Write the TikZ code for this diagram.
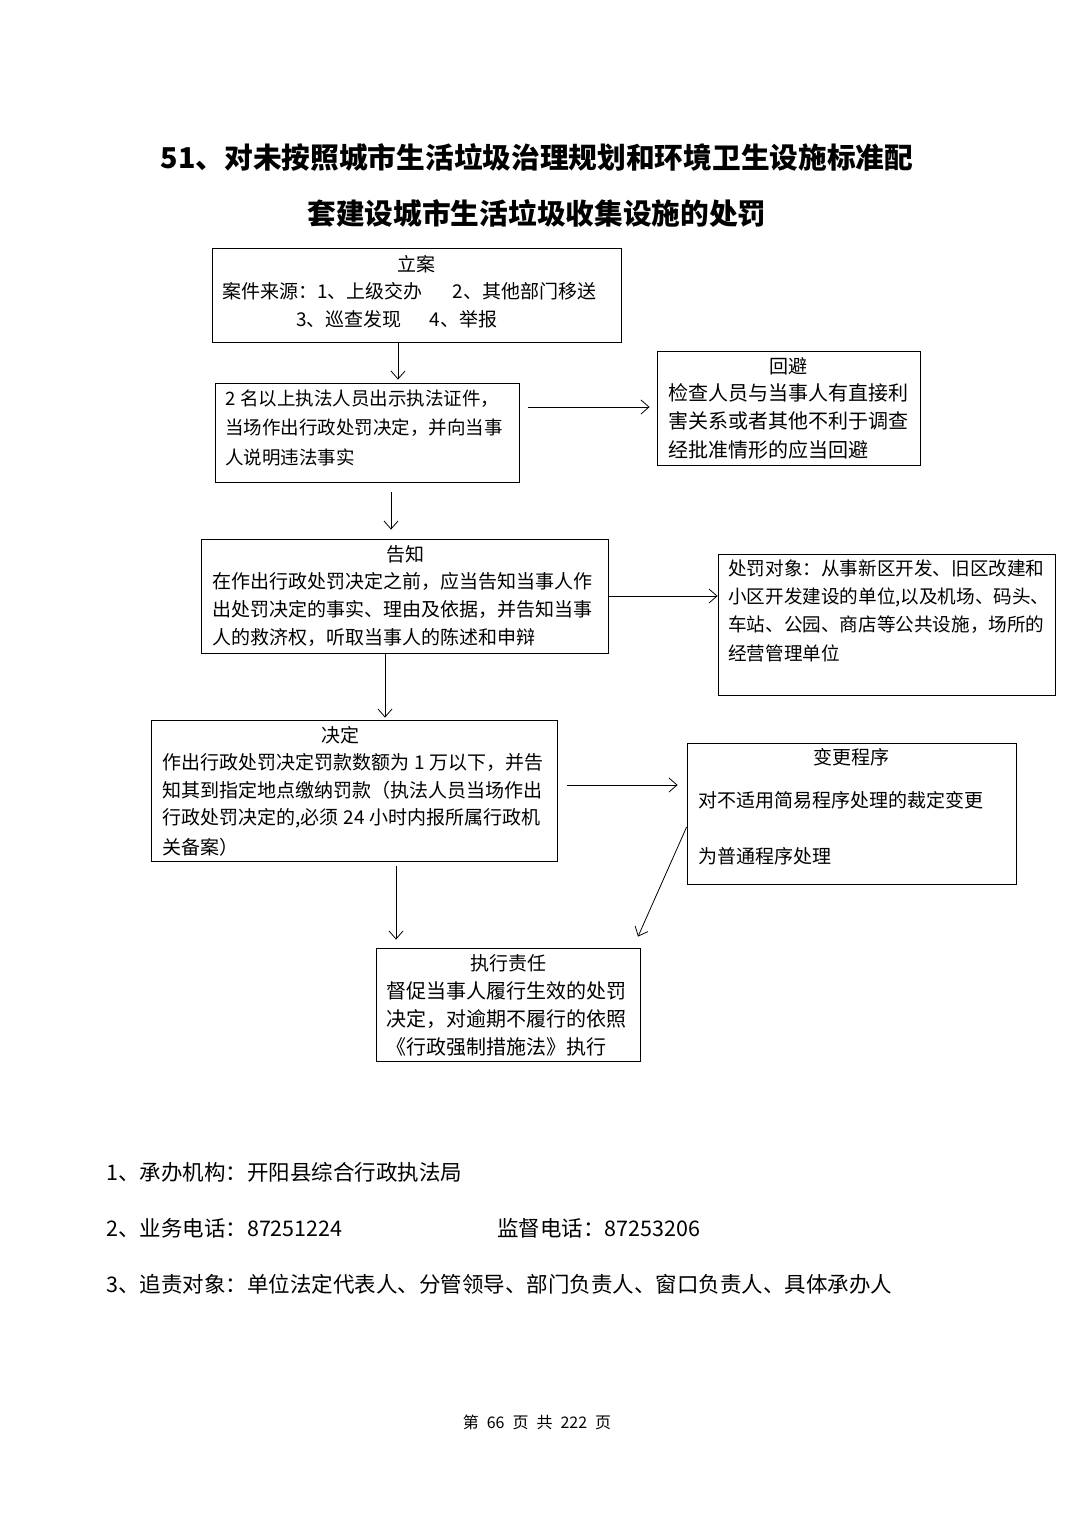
\documentclass[tikz,border=0pt]{standalone}
\usepackage{fontspec}
\setmainfont{Noto Sans CJK SC}
\usetikzlibrary{arrows.meta}
\tikzset{
  box/.style={draw, line width=0.8pt, inner sep=0pt, rectangle},
  arr/.style={draw, line width=0.8pt, -{Straight Barb[length=8pt,width=14pt,line width=0.8pt]}},
  txt/.style={inner sep=0pt, anchor=west, font=\fontsize{19}{19}\selectfont},
  ttl/.style={inner sep=0pt, anchor=center, font=\fontsize{19}{19}\selectfont},
  wide/.style={font=\fontsize{20}{20}\selectfont},
  foot/.style={inner sep=0pt, anchor=west, font=\fontsize{21.5}{21.5}\selectfont},
  head/.style={inner sep=0pt, anchor=center, font=\fontsize{28.7}{28.7}\selectfont\bfseries}
}
\begin{document}
\begin{tikzpicture}[x=1pt,y=-1pt]
\useasboundingbox (0,0) rectangle (1074,1520);
\fill[white] (0,0) rectangle (1074,1520);

% title
\node[head] (h1) at (537,157) {51、对未按照城市生活垃圾治理规划和环境卫生设施标准配};
\node[head] (h2) at (537,213) {套建设城市生活垃圾收集设施的处罚};

% boxes
\node[box, minimum width=409pt, minimum height=94pt] (lian) at (416.5,295) {};
\node[box, minimum width=304pt, minimum height=99pt] (b2) at (367,432.5) {};
\node[box, minimum width=263pt, minimum height=114pt] (huibi) at (788.5,408) {};
\node[box, minimum width=407pt, minimum height=114pt] (gaozhi) at (404.5,596) {};
\node[box, minimum width=337pt, minimum height=141pt] (dx) at (886.5,624.5) {};
\node[box, minimum width=406pt, minimum height=141pt] (jd) at (354,790.5) {};
\node[box, minimum width=329pt, minimum height=141pt] (bg) at (851.5,813.5) {};
\node[box, minimum width=264pt, minimum height=113pt] (zx) at (508,1004.5) {};

% box 1 text
\node[ttl] (l0) at (416.5,264) {立案};
\node[txt] (l1) at (222,291) {案件来源：1、上级交办\hspace{30pt}2、其他部门移送};
\node[txt] (l2) at (296,319) {3、巡查发现\hspace{28pt}4、举报};

% box 2 text
\node[txt, font=\fontsize{18.5}{18.5}\selectfont] (b2a) at (225,399) {2\hspace{5pt}名以上执法人员出示执法证件，};
\node[txt, font=\fontsize{18.5}{18.5}\selectfont] (b2b) at (225,428) {当场作出行政处罚决定，并向当事};
\node[txt, font=\fontsize{18.5}{18.5}\selectfont] (b2c) at (225,457) {人说明违法事实};

% huibi text
\node[ttl] (hb0) at (788,366) {回避};
\node[txt, wide] (hb1) at (668,393) {检查人员与当事人有直接利};
\node[txt, wide] (hb2) at (668,421) {害关系或者其他不利于调查};
\node[txt, wide] (hb3) at (668,450) {经批准情形的应当回避};

% gaozhi text
\node[ttl] (gz0) at (405,554) {告知};
\node[txt] (gz1) at (212,581) {在作出行政处罚决定之前，应当告知当事人作};
\node[txt] (gz2) at (212,609) {出处罚决定的事实、理由及依据，并告知当事};
\node[txt] (gz3) at (212,637) {人的救济权，听取当事人的陈述和申辩};

% duixiang text
\node[txt, font=\fontsize{18.6}{18.6}\selectfont] (dx1) at (728,568) {处罚对象：从事新区开发、旧区改建和};
\node[txt, font=\fontsize{18.6}{18.6}\selectfont] (dx2) at (728,597) {小区开发建设的单位,以及机场、码头、};
\node[txt, font=\fontsize{18.6}{18.6}\selectfont] (dx3) at (728,625) {车站、公园、商店等公共设施，场所的};
\node[txt, font=\fontsize{18.6}{18.6}\selectfont] (dx4) at (728,653) {经营管理单位};

% jueding text
\node[ttl] (jd0) at (340,735) {决定};
\node[txt] (jd1) at (162,762) {作出行政处罚决定罚款数额为\hspace{5pt}1\hspace{5pt}万以下，并告};
\node[txt] (jd2) at (162,790) {知其到指定地点缴纳罚款（执法人员当场作出};
\node[txt] (jd3) at (162,818) {行政处罚决定的,必须\hspace{5pt}24\hspace{5pt}小时内报所属行政机};
\node[txt] (jd4) at (162,847) {关备案）};

% biangeng text
\node[ttl] (bg0) at (851,757) {变更程序};
\node[txt] (bg1) at (698,800) {对不适用简易程序处理的裁定变更};
\node[txt] (bg2) at (698,856) {为普通程序处理};

% zhixing text
\node[ttl] (zx0) at (508,963) {执行责任};
\node[txt, wide] (zx1) at (386,991) {督促当事人履行生效的处罚};
\node[txt, wide] (zx2) at (386,1019) {决定，对逾期不履行的依照};
\node[txt, wide] (zx3) at (386,1047) {《行政强制措施法》执行};

% arrows
\draw[arr] ([xshift=-18.5pt]lian.south) -- ([xshift=31pt,yshift=3pt]b2.north);
\draw[arr] ([xshift=9pt,yshift=25.5pt]b2.east) -- ([xshift=-7pt,yshift=1pt]huibi.west);
\draw[arr] ([xshift=24pt,yshift=-10pt]b2.south) -- ([xshift=-13.5pt,yshift=9pt]gaozhi.north);
\draw[arr] (gaozhi.east) -- (gaozhi.east -| dx.west);
\draw[arr] ([xshift=-19.5pt]gaozhi.south) -- ([xshift=31pt,yshift=2pt]jd.north);
\draw[arr] ([xshift=10pt,yshift=5.5pt]jd.east) -- ([xshift=-9pt,yshift=28.5pt]bg.west);
\draw[arr] ([yshift=-13.5pt]bg.west) -- ([xshift=130pt,yshift=11pt]zx.north);
\draw[arr] ([xshift=42pt,yshift=-5pt]jd.south) -- ([xshift=-112pt,yshift=8pt]zx.north);

% footer
\node[foot] (f1) at (106,1172) {1、承办机构：开阳县综合行政执法局};
\node[foot] (f2) at (106,1228) {2、业务电话：87251224};
\node[foot] (f2b) at (497,1228) {监督电话：87253206};
\node[foot] (f3) at (106,1284) {3、追责对象：单位法定代表人、分管领导、部门负责人、窗口负责人、具体承办人};

\node[inner sep=0pt, font=\fontsize{16}{16}\selectfont] (pg) at (537,1422) {第\hspace{8pt}66\hspace{8pt}页\hspace{8pt}共\hspace{8pt}222\hspace{8pt}页};
\end{tikzpicture}
\end{document}
